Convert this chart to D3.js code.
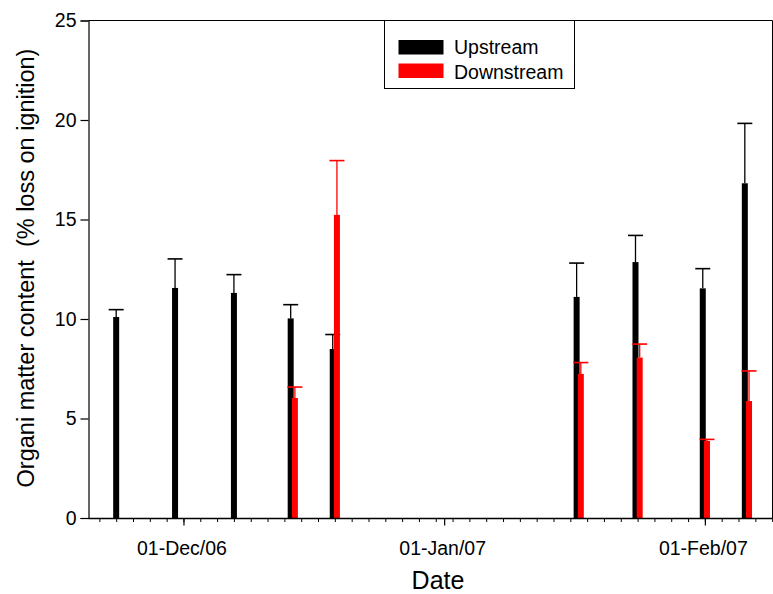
<!DOCTYPE html>
<html>
<head>
<meta charset="utf-8">
<script src="https://cdn.jsdelivr.net/npm/d3@7"></script>
<style>
  html, body { margin: 0; padding: 0; background: #fff; }
  svg { display: block; }
  text { font-family: "Liberation Sans", Arial, sans-serif; }
</style>
</head>
<body>
<svg id="chart" width="773" height="594"></svg>
<script>
// ---- data ----
const sampleDates = ["2006-11-23","2006-11-30","2006-12-07","2006-12-14","2006-12-19","2007-01-17","2007-01-24","2007-02-01","2007-02-06"];
const upstream      = [10.10, 11.56, 11.31, 10.03, 8.49, 11.11, 12.86, 11.54, 16.82];
const upstreamErr   = [0.37, 1.46, 0.92, 0.69, 0.73, 1.70, 1.34, 0.99, 3.01];
const downstream    = [null, null, null, 6.03, 15.23, 7.24, 8.06, 3.87, 5.88];
const downstreamErr = [null, null, null, 0.55, 2.73, 0.57, 0.68, 0.08, 1.51];
const seriesNames   = ["Upstream", "Downstream"];
const majorTickDates = ["2006-12-01","2007-01-01","2007-02-01"];
const yTicks = [0, 5, 10, 15, 20, 25];
const xDomain = ["2006-11-19 17:00", "2007-02-09 01:00"];

// ---- layout ----
const svg = d3.select("#chart");
const mLeft = 88.5, mRight = 772.5, mTop = 20.5, mBottom = 518;
const parse = d3.timeParse("%Y-%m-%d");
const parseT = d3.timeParse("%Y-%m-%d %H:%M");
const fmt = d3.timeFormat("%d-%b/%y");
const colors = ["#000000", "#ff0000"];

const x = d3.scaleTime().domain(xDomain.map(parseT)).range([mLeft, mRight]);
const y = d3.scaleLinear().domain([0, 25]).range([mBottom, mTop]);

const barW = 6, halfOff = 2.1, capW = 15;

const rows = sampleDates.map((d, i) => ({
  date: parse(d), up: upstream[i], upE: upstreamErr[i],
  down: downstream[i], downE: downstreamErr[i]
}));

// frame (top and right)
svg.append("line").attr("x1", mLeft).attr("x2", mRight).attr("y1", mTop).attr("y2", mTop)
  .attr("stroke", "#000").attr("stroke-width", 1);
svg.append("line").attr("x1", mRight).attr("x2", mRight).attr("y1", mTop).attr("y2", mBottom)
  .attr("stroke", "#000").attr("stroke-width", 1);

// bars
const g = svg.append("g");
function cxUp(r) { return x(r.date) - (r.down == null ? 0 : halfOff); }
function cxDown(r) { return x(r.date) + halfOff; }

// upstream bars + errors
g.selectAll(".up").data(rows).join("rect")
  .attr("x", r => cxUp(r) - barW / 2).attr("width", barW)
  .attr("y", r => y(r.up)).attr("height", r => y(0) - y(r.up))
  .attr("fill", colors[0]);
g.selectAll(".upE").data(rows).join("line")
  .attr("x1", r => cxUp(r)).attr("x2", r => cxUp(r))
  .attr("y1", r => y(r.up)).attr("y2", r => y(r.up + r.upE))
  .attr("stroke", colors[0]).attr("stroke-width", 1.3);
g.selectAll(".upC").data(rows).join("line")
  .attr("x1", r => cxUp(r) - capW / 2).attr("x2", r => cxUp(r) + capW / 2)
  .attr("y1", r => y(r.up + r.upE)).attr("y2", r => y(r.up + r.upE))
  .attr("stroke", colors[0]).attr("stroke-width", 1.6);

// downstream bars + errors
const dRows = rows.filter(r => r.down != null);
g.selectAll(".dn").data(dRows).join("rect")
  .attr("x", r => cxDown(r) - barW / 2).attr("width", barW)
  .attr("y", r => y(r.down)).attr("height", r => y(0) - y(r.down))
  .attr("fill", colors[1]);
g.selectAll(".dnE").data(dRows).join("line")
  .attr("x1", r => cxDown(r)).attr("x2", r => cxDown(r))
  .attr("y1", r => y(r.down)).attr("y2", r => y(r.down + r.downE))
  .attr("stroke", colors[1]).attr("stroke-width", 1.3);
g.selectAll(".dnC").data(dRows).join("line")
  .attr("x1", r => cxDown(r) - capW / 2).attr("x2", r => cxDown(r) + capW / 2)
  .attr("y1", r => y(r.down + r.downE)).attr("y2", r => y(r.down + r.downE))
  .attr("stroke", colors[1]).attr("stroke-width", 1.6);

// y axis
const yAxis = d3.axisLeft(y).tickValues(yTicks).tickSize(8).tickPadding(4).tickFormat(d3.format("d"));
const yg = svg.append("g").attr("transform", `translate(${mLeft},0)`).call(yAxis);
yg.select(".domain").attr("stroke", "#000").attr("stroke-width", 1.2);
yg.selectAll(".tick line").attr("stroke", "#000").attr("stroke-width", 1.2);
yg.selectAll(".tick text").attr("font-size", 19.5).attr("fill", "#000")
  .style("font-family", "'Liberation Sans', Arial, sans-serif");

// x axis minor ticks (every 2 days)
const minor = d3.timeDay.range(parse("2006-11-21"), x.domain()[1], 2);
const xMinor = d3.axisBottom(x).tickValues(minor).tickSize(4).tickFormat("");
const xmg = svg.append("g").attr("transform", `translate(0,${mBottom})`).call(xMinor);
xmg.select(".domain").remove();
xmg.selectAll(".tick line").attr("stroke", "#000").attr("stroke-width", 1);

// x axis major ticks
const xMajor = d3.axisBottom(x).tickValues(majorTickDates.map(parse)).tickSize(7.5).tickPadding(16).tickFormat(fmt);
const xg = svg.append("g").attr("transform", `translate(0,${mBottom})`).call(xMajor);
xg.select(".domain").attr("d", `M${mLeft},0.5H${mRight}`).attr("stroke", "#000").attr("stroke-width", 1.5);
xg.selectAll(".tick line").attr("stroke", "#000").attr("stroke-width", 1.2);
xg.selectAll(".tick text").attr("font-size", 19.5).attr("fill", "#000")
  .attr("dx", -2)
  .style("font-family", "'Liberation Sans', Arial, sans-serif");

// axis titles
svg.append("text").attr("x", 438).attr("y", 589)
  .attr("text-anchor", "middle").attr("font-size", 25).text("Date");
svg.append("text").attr("transform", `translate(34,268) rotate(-90)`)
  .attr("text-anchor", "middle").attr("font-size", 23.5)
  .style("white-space", "pre")
  .text("Organi matter content  (% loss on ignition)");

// legend
const lg = svg.append("g");
lg.append("rect").attr("x", 384.5).attr("y", mTop).attr("width", 190).attr("height", 68)
  .attr("fill", "#fff").attr("stroke", "#000").attr("stroke-width", 1);
seriesNames.forEach((n, i) => {
  lg.append("rect").attr("x", 398.5).attr("y", 40 + i * 23.5).attr("width", 45).attr("height", 14.5)
    .attr("fill", colors[i]);
  lg.append("text").attr("x", 454).attr("y", 54 + i * 24.5).attr("font-size", 19.5).text(n);
});
</script>
</body>
</html>
